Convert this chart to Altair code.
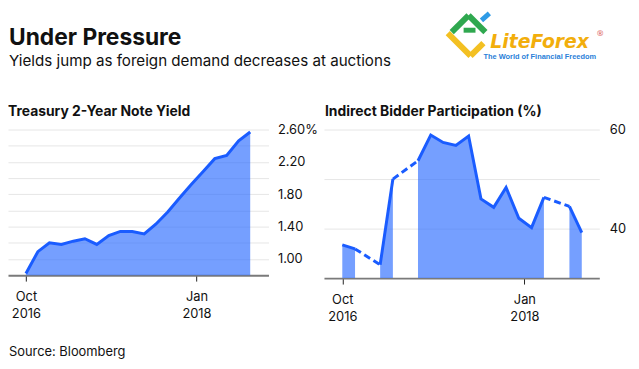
import altair as alt
import pandas as pd

# ---- data ----
dates = ["2016-10-01", "2016-11-02", "2016-12-03", "2017-01-04", "2017-02-05",
         "2017-03-08", "2017-04-09", "2017-05-11", "2017-06-11", "2017-07-13",
         "2017-08-14", "2017-09-14", "2017-10-16", "2017-11-16", "2017-12-18",
         "2018-01-19", "2018-02-19", "2018-03-23", "2018-04-24", "2018-05-25"]
yield_pct = [0.82, 1.09, 1.20, 1.18, 1.22, 1.25, 1.18, 1.29, 1.34, 1.34,
             1.31, 1.43, 1.58, 1.75, 1.92, 2.08, 2.24, 2.28, 2.46, 2.57]
indirect = [36.7, 35.9, None, 32.7, 50.0, None, 53.7, 58.9, 57.4, 56.8,
            58.7, 46.0, 44.3, 48.3, 42.1, 40.2, 46.3, None, 44.5, 39.2]
yield_ticks = [1.0, 1.2, 1.4, 1.6, 1.8, 2.0, 2.2, 2.4, 2.6]
indirect_ticks = [40, 50, 60]

title = "Under Pressure"
subtitle = "Yields jump as foreign demand decreases at auctions"
left_title = "Treasury 2-Year Note Yield"
right_title = "Indirect Bidder Participation (%)"
source = "Source: Bloomberg"

LINE = "#1a5cff"
FILL = "#2b6bff"
FONT = "Inter"
INK = "#111111"

# ---- tables ----
df_yield = pd.DataFrame({"date": dates, "v": yield_pct})

solid_rows, dash_rows = [], []
seg, prev = 0, None
for i, (d, v) in enumerate(zip(dates, indirect)):
    if v is None:
        seg += 1
        continue
    solid_rows.append({"date": d, "v": v, "seg": seg})
    if prev is not None and prev[0] != i - 1:
        dash_rows.append({"date": dates[prev[0]], "v": prev[1], "gap": i})
        dash_rows.append({"date": d, "v": v, "gap": i})
    prev = (i, v)
df_solid = pd.DataFrame(solid_rows)
df_dash = pd.DataFrame(dash_rows)
one = pd.DataFrame({"k": [0]})


def x_enc(start, end):
    return alt.X(
        "date:T",
        scale=alt.Scale(type="utc", nice=False,
                        domain=[alt.DateTime(year=start[0], month=start[1], date=start[2], utc=True),
                                alt.DateTime(year=end[0], month=end[1], date=end[2], utc=True)]),
        axis=alt.Axis(
            values=[alt.DateTime(year=2016, month=10, date=1, utc=True),
                    alt.DateTime(year=2018, month=1, date=1, utc=True)],
            labelExpr="[utcFormat(datum.value, '%b'), utcFormat(datum.value, '%Y')]",
            title=None, grid=False, domainColor="#7a7a7a", domainWidth=2,
            tickColor="#222222", tickSize=6, tickWidth=1, labelPadding=10,
            labelLineHeight=17, labelFontSize=13, labelFont=FONT, labelColor=INK,
            labelFlush=False, labelOverlap=False),
    )


def text(s, x, y, size, weight="normal", color=INK, font=FONT, style="normal"):
    return alt.Chart(one).mark_text(
        text=s, align="left", baseline="alphabetic", fontSize=size,
        fontWeight=weight, color=color, font=font, fontStyle=style
    ).encode(x=alt.value(x), y=alt.value(y))


def stroke(x, y, x2, y2, color, w=6):
    return alt.Chart(one).mark_rule(color=color, strokeWidth=w, strokeCap="butt").encode(
        x=alt.value(x), y=alt.value(y), x2=alt.value(x2), y2=alt.value(y2))


# ---- left panel ----
yl = alt.Y("v:Q", scale=alt.Scale(domain=[0.8, 2.6], nice=False, zero=False),
           axis=alt.Axis(orient="right", values=yield_ticks, title=None,
                         labelExpr="round(datum.value*10) % 4 == 2 ? format(datum.value, '.2f') + (datum.value > 2.5 ? '%' : '') : ''",
                         domain=False, ticks=False, labelPadding=9, gridColor="#e6e6e6",
                         labelFontSize=13, labelFont=FONT, labelColor=INK))
xl = x_enc((2016, 8, 14), (2018, 7, 13))

left = alt.layer(
    alt.Chart(df_yield).mark_area(color=FILL, opacity=0.65).encode(x=xl, y=yl, y2=alt.datum(0.8)),
    alt.Chart(df_yield).mark_line(color=LINE, strokeWidth=3).encode(x=xl, y=yl),
    text(title, 1, -85, 23, "bold"),
    text(subtitle, 1, -64.4, 15.3),
    text(left_title, 0, -13.6, 14, "bold"),
    text(source, 1, 228.5, 13),
).properties(width=263, height=147)

# ---- right panel ----
yr = alt.Y("v:Q", stack=None, scale=alt.Scale(domain=[30, 60], nice=False, zero=False),
           axis=alt.Axis(orient="right", values=indirect_ticks, title=None,
                         labelExpr="datum.value == 50 ? '' : datum.label",
                         domain=False, ticks=False, labelPadding=10, gridColor="#e6e6e6",
                         labelFontSize=13, labelFont=FONT, labelColor=INK))
xr = x_enc((2016, 8, 16), (2018, 7, 8))

right = alt.layer(
    alt.Chart(df_solid).mark_area(color=FILL, opacity=0.65).encode(
        x=xr, y=yr, y2=alt.datum(30), detail="seg:N"),
    alt.Chart(df_solid).mark_line(color=LINE, strokeWidth=3).encode(x=xr, y=yr, detail="seg:N"),
    alt.Chart(df_dash).mark_line(color=LINE, strokeWidth=3, strokeDash=[7, 4]).encode(
        x=xr, y=yr, detail="gap:N"),
    text(right_title, 1, -13.6, 14, "bold"),
    # logo
    stroke(125, -97.3, 148, -74.3, "#f3c022"),
    stroke(148, -74.3, 161, -87.3, "#f3c022"),
    stroke(129, -98.3, 146, -115.3, "#2fa84f"),
    stroke(146, -115.3, 163, -98.3, "#2fa84f"),
    stroke(141, -100.3, 153, -100.3, "#2fa84f", 5),
    stroke(159, -110.3, 167, -117.3, "#2e9be6", 5),
    text("LiteForex", 168, -82.8, 19, "bold", "#f2ae0c", "DejaVu Sans", "italic"),
    text("\u00ae", 275, -94, 8, "normal", "#d9534f", "DejaVu Sans"),
    text("The World of Financial Freedom", 161, -71.3, 7.5, "bold", "#2a7fd8", "Liberation Sans"),
).properties(width=278, height=150)

chart = alt.hconcat(left, right, spacing=56, bounds="flush").properties(
    padding={"left": 0, "top": 1, "right": 5, "bottom": 5}
).configure_view(stroke=None).configure_axis(gridWidth=1)

chart.save("out.html", embed_options={"renderer": "svg", "actions": False})
